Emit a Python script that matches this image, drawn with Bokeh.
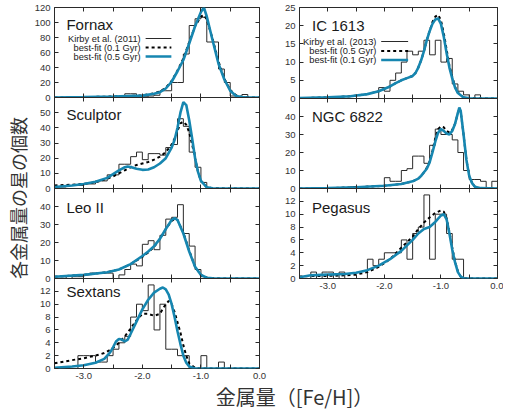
import math
from bokeh.plotting import figure
from bokeh.layouts import column, row
from bokeh.models import Range1d, LinearAxis, FixedTicker, PrintfTickFormatter, Label
from bokeh.embed import file_html
from bokeh.resources import INLINE

# ---------------- data ----------------
BIN_LEFT = [-3.5, -3.4, -3.3, -3.2, -3.1, -3.0, -2.9, -2.8, -2.7, -2.6, -2.5, -2.4,
            -2.3, -2.2, -2.1, -2.0, -1.9, -1.8, -1.7, -1.6, -1.5, -1.4, -1.3, -1.2,
            -1.1, -1.0, -0.9, -0.8, -0.7, -0.6, -0.5, -0.4, -0.3, -0.2, -0.1]
BIN_END = 0.0

X_MAJOR = [-3.0, -2.0, -1.0, 0.0]
X_MINOR = [-3.5, -2.5, -1.5, -0.5]

FORNAX_COUNTS = [0, 0, 0, 0, 0, 0, 0, 0, 0, 0, 0, 0, 5, 5, 1, 1, 2, 3, 9, 9, 20, 20, 58, 96,
                 105, 107, 74, 74, 38, 20, 2, 0, 4, 0, 0]
FORNAX_FIT_X = [-3.5, -3.0, -2.5, -2.0, -1.8, -1.7, -1.6, -1.5, -1.4, -1.3, -1.2, -1.1, -1.0,
                -0.95, -0.9, -0.8, -0.7, -0.6, -0.5, -0.4, -0.3, -0.2, 0.0]
FORNAX_FIT_01 = [0, 0.5, 1.3, 2.7, 5.5, 8, 13, 22, 36, 52, 74, 95, 108, 110, 104, 78, 48, 25, 10,
                 3, 0.8, 0.2, 0]
FORNAX_FIT_05 = [0, 0.5, 1.2, 2.5, 5, 7, 12, 21, 35, 50, 72, 95, 114, 120, 108, 76, 45, 24, 9,
                 2, 0.5, 0.1, 0]
FORNAX_YTICKS = [0, 20, 40, 60, 80, 100, 120]

SCULPTOR_COUNTS = [1, 1, 2, 2, 2, 3, 3, 5, 5, 9, 9, 16, 16, 21, 24, 19, 23, 23, 22, 27, 29, 46,
                   41, 24, 14, 4, 0, 0, 0, 0, 0, 0, 0, 0, 0]
SCULPTOR_FIT_X = [-3.5, -3.2, -3.0, -2.8, -2.6, -2.5, -2.4, -2.3, -2.25, -2.2, -2.1, -2.0, -1.9,
                  -1.8, -1.7, -1.6, -1.5, -1.45, -1.4, -1.35, -1.3, -1.25, -1.2, -1.15, -1.1,
                  -1.05, -1.0, -0.9, -0.8, -0.5, 0.0]
SCULPTOR_FIT_01 = [2, 2.5, 3, 4, 6.5, 8, 10, 12, 13, 14, 15.5, 16.5, 17.5, 19, 21, 24, 29, 33,
                   38, 43, 44, 42, 37, 29, 20, 11, 5, 1, 0.2, 0, 0]
SCULPTOR_FIT_05 = [1, 2, 3, 4.5, 7, 9.5, 12, 14, 14.5, 14.2, 13, 12.3, 12.5, 14, 16.5, 20, 27,
                   32, 40, 50, 57, 55, 45, 33, 20, 11, 5, 0.8, 0.1, 0, 0]
SCULPTOR_YTICKS = [0, 10, 20, 30, 40, 50]

LEO2_COUNTS = [1, 1, 0, 1, 1, 2, 3, 3, 3, 3, 0, 2, 5, 8, 7, 19, 21, 16, 24, 33, 34, 41, 25, 18,
               5, 1, 0, 0, 0, 0, 0, 0, 0, 0, 0]
LEO2_FIT_X = [-3.5, -3.0, -2.6, -2.4, -2.2, -2.0, -1.9, -1.8, -1.7, -1.6, -1.5, -1.45, -1.4,
              -1.3, -1.2, -1.1, -1.0, -0.9, -0.8, -0.5, 0.0]
LEO2_FIT_01 = [1, 2, 3.5, 5, 8, 12, 14.5, 17.5, 22, 27.5, 32, 33, 32.5, 25.5, 15.5, 6.5, 2, 0.4,
               0.1, 0, 0]
LEO2_FIT_05 = [1, 2, 3.5, 5, 8, 12.5, 15, 18, 22, 27.5, 32.5, 33.5, 32.5, 25, 15, 6.5, 2, 0.4,
               0.1, 0, 0]
LEO2_YTICKS = [0, 10, 20, 30, 40]

SEXTANS_COUNTS = [0, 0, 0, 0, 2, 2, 2, 1, 1, 2, 3, 4, 5, 8, 10, 9, 13, 6, 10, 3, 3, 2, 2, 0, 0,
                  2, 0, 0, 1, 0, 0, 0, 0, 0, 0]
SEXTANS_FIT_X = [-3.5, -3.2, -3.0, -2.8, -2.65, -2.55, -2.5, -2.45, -2.4, -2.35, -2.3, -2.25,
                 -2.2, -2.1, -2.0, -1.9, -1.8, -1.7, -1.65, -1.6, -1.55, -1.5, -1.45, -1.4,
                 -1.35, -1.3, -1.25, -1.2, -1.1, -1.0, 0.0]
SEXTANS_FIT_01 = [0.8, 1.3, 1.6, 2, 2.4, 2.9, 3.2, 3.6, 4, 4.5, 5, 5.6, 6.2, 7.5, 8.5, 8.5, 8.2,
                  8.5, 9.3, 10, 10.5, 10, 8.8, 7.2, 5.6, 3.6, 2, 0.8, 0.1, 0, 0]
SEXTANS_FIT_05 = [0.1, 0.3, 0.5, 0.9, 1.5, 2.5, 3.3, 4.2, 4.6, 4.5, 4.2, 4.5, 5.4, 7.3, 9.2,
                  10.7, 11.8, 12.4, 12.6, 12.3, 11.5, 10, 8, 5.8, 3.8, 2, 0.9, 0.3, 0, 0, 0]
SEXTANS_YTICKS = [0, 2, 4, 6, 8, 10, 12]

IC1613_COUNTS = [0, 0, 0, 0, 0, 0, 0, 0, 0, 0, 0, 0, 0, 0, 3, 2, 5, 7, 10, 13, 12, 13, 16, 12,
                 16, 10, 11, 4, 2, 1, 0, 1, 0, 0, 0]
IC1613_FIT_X = [-3.5, -3.0, -2.6, -2.3, -2.1, -1.9, -1.8, -1.7, -1.6, -1.5, -1.45, -1.4, -1.35,
                -1.3, -1.25, -1.2, -1.15, -1.1, -1.05, -1.0, -0.95, -0.9, -0.85, -0.8, -0.75,
                -0.7, -0.6, -0.5, 0.0]
IC1613_FIT_05 = [0.1, 0.3, 0.6, 1.2, 2, 3.3, 4.2, 5, 5.6, 6.2, 7, 8.5, 10.5, 13, 16, 18.5, 21,
                 22.5, 23, 21.5, 18, 13.5, 9, 6, 3.2, 1.6, 0.3, 0.05, 0]
IC1613_FIT_01 = [0.1, 0.3, 0.6, 1.2, 2, 3.3, 4.2, 5, 5.6, 6.2, 7, 8.5, 10.5, 13, 16, 18.5, 20.5,
                 21.7, 22, 20.5, 17, 12.5, 8.5, 5.5, 3, 1.5, 0.3, 0.05, 0]
IC1613_YTICKS = [0, 5, 10, 15, 20, 25]

NGC6822_COUNTS = [0, 0, 0, 0, 0, 0, 0, 0, 0, 1, 1, 0, 0, 0, 0, 6, 4, 4, 10, 11, 18, 18, 14, 24,
                  33, 30, 30, 27, 20, 10, 5, 5, 4, 0, 4]
NGC6822_FIT_X = [-3.5, -3.0, -2.5, -2.0, -1.7, -1.5, -1.4, -1.35, -1.3, -1.25, -1.2, -1.15, -1.1,
                 -1.05, -1.0, -0.95, -0.9, -0.85, -0.8, -0.75, -0.7, -0.675, -0.65, -0.6, -0.55,
                 -0.5, -0.45, -0.4, -0.3, 0.0]
NGC6822_FIT_05 = [0, 0.2, 0.7, 1.5, 2.5, 4, 5.5, 7, 9, 11.5, 15, 21, 28, 33, 34.5, 34, 32, 31,
                  32.5, 36, 42, 44.5, 42.5, 30, 16, 7, 3, 1, 0.2, 0]
NGC6822_FIT_01 = [0, 0.2, 0.7, 1.5, 2.5, 4, 5.5, 7, 9, 11, 14.5, 20, 26, 31, 33, 32, 30.5, 30,
                  32, 36, 42, 45, 43, 30, 16, 7, 3, 1, 0.2, 0]
NGC6822_YTICKS = [0, 10, 20, 30, 40]

PEGASUS_COUNTS = [0, 0, 1, 0, 1, 1, 0, 1, 0, 0, 0, 0, 3, 2, 3, 4, 4, 4, 6, 3, 7, 8, 13, 3, 10,
                  10, 7, 3, 3, 0, 0, 0, 0, 0, 0]
PEGASUS_FIT_X = [-3.5, -3.3, -3.0, -2.7, -2.5, -2.3, -2.1, -1.9, -1.7, -1.5, -1.4, -1.3, -1.2,
                 -1.1, -1.0, -0.95, -0.9, -0.85, -0.8, -0.75, -0.7, -0.65, -0.6, -0.5, 0.0]
PEGASUS_FIT_05 = [0.3, 0.4, 0.4, 0.5, 0.6, 1, 1.8, 3, 4.8, 6.5, 7.7, 8.7, 9.5, 10.2, 10.6, 10.4,
                  9.4, 7.2, 4.8, 2.6, 1.1, 0.3, 0.05, 0, 0]
PEGASUS_FIT_01 = [0.2, 0.5, 0.6, 0.7, 0.9, 1.3, 2, 3, 4.3, 6, 7, 7.7, 8, 8.8, 9.8, 10, 9.2, 7,
                  4.5, 2.5, 1, 0.3, 0.05, 0, 0]
PEGASUS_YTICKS = [0, 2, 4, 6, 8, 10, 12]

LEGEND_LEFT = ["Kirby et al. (2011)", "best-fit (0.1 Gyr)", "best-fit (0.5 Gyr)"]
LEGEND_RIGHT = ["Kirby et al. (2013)", "best-fit (0.5 Gyr)", "best-fit (0.1 Gyr)"]

Y_LABEL = "各金属量の星の個数"
X_LABEL = "金属量（[Fe/H]）"

# ---------------- style ----------------
BLUE = "#1686b0"
INK = "#2a2a2a"
FONT = "Liberation Sans"
CJK = "Noto Sans CJK JP"
XMIN, XMAX = -3.5, 0.0


def add_axes(p, yticks, show_x):
    common = dict(axis_line_color=None, major_tick_in=4, major_tick_out=0,
                  minor_tick_in=4, minor_tick_out=0,
                  major_tick_line_color=INK, minor_tick_line_color=INK,
                  major_label_text_font=FONT, major_label_text_color="#333333",
                  major_label_text_font_size="9.5px")
    # mirrored (unlabelled) ticks are drawn as minor ticks, so they carry no labels
    all_x = sorted(X_MAJOR + X_MINOR)
    if show_x:
        below = LinearAxis(ticker=FixedTicker(ticks=X_MAJOR, minor_ticks=X_MINOR),
                           formatter=PrintfTickFormatter(format="%.1f"),
                           major_label_standoff=4, **common)
    else:
        below = LinearAxis(ticker=FixedTicker(ticks=[], minor_ticks=all_x),
                           major_label_standoff=0, **common)
    above = LinearAxis(ticker=FixedTicker(ticks=[], minor_ticks=all_x),
                       major_label_standoff=0, **common)
    left = LinearAxis(ticker=FixedTicker(ticks=yticks, minor_ticks=[]),
                      major_label_standoff=4, **common)
    right = LinearAxis(ticker=FixedTicker(ticks=[], minor_ticks=yticks),
                       major_label_standoff=0, **common)
    p.add_layout(below, "below")
    p.add_layout(above, "above")
    p.add_layout(left, "left")
    p.add_layout(right, "right")


def panel(name, counts, fit_x, fit_dash, fit_blue, ymax, yticks, width, lb, rb, tb, bb,
          frame_h, show_x, margin, title_off, legend=None):
    fw = width - lb - rb
    p = figure(width=width, height=tb + frame_h + bb,
               x_range=Range1d(XMIN, XMAX), y_range=Range1d(0, ymax),
               x_axis_type=None, y_axis_type=None,
               output_backend="svg", toolbar_location=None,
               min_border_left=lb, min_border_right=rb, min_border_top=tb, min_border_bottom=bb,
               background_fill_alpha=0, border_fill_alpha=0,
               outline_line_color=INK, outline_line_width=1,
               margin=margin)
    add_axes(p, yticks, show_x)

    def xd(px):
        return XMIN + px / fw * (XMAX - XMIN)

    def yd(py):
        return ymax - py / frame_h * ymax

    p.step(x=BIN_LEFT + [BIN_END], y=counts + [0], mode="after", line_color=INK, line_width=1)
    p.line(fit_x, fit_dash, line_color="black", line_width=2, line_dash="3 3")
    p.line(fit_x, fit_blue, line_color=BLUE, line_width=2.6)

    p.add_layout(Label(x=xd(title_off[0]), y=yd(title_off[1]), text=name,
                       text_baseline="middle", text_font=FONT, text_font_size="15px",
                       text_color="#1a1a1a"))
    if legend is not None:
        texts, tx, sx0, sx1, rows = legend
        styles = [dict(line_color=INK, line_width=1.2),
                  dict(line_color="black", line_width=2, line_dash="3 3"),
                  dict(line_color=BLUE, line_width=2.6)]
        for t, ry, st in zip(texts, rows, styles):
            p.add_layout(Label(x=xd(tx), y=yd(ry), text=t, text_align="right",
                               text_baseline="middle", text_font=FONT,
                               text_font_size="9.3px", text_color="#1a1a1a"))
            p.line([xd(sx0), xd(sx1)], [yd(ry), yd(ry)], **st)
    return p


LW, LLB, LRB = 244, 21, 16
# right column runs into the page's right margin (negative right margin keeps the page width)
RW, RLB, RRB, RM = 236, 24, 6, -8

f1 = panel("Fornax", FORNAX_COUNTS, FORNAX_FIT_X, FORNAX_FIT_01, FORNAX_FIT_05, 120,
           FORNAX_YTICKS, LW, LLB, LRB, 7, 6, 90, False, (0, 0, 0, 0), (12, 17),
           legend=(LEGEND_LEFT, 87, 92, 118, (31, 40, 49)))
f2 = panel("Sculptor", SCULPTOR_COUNTS, SCULPTOR_FIT_X, SCULPTOR_FIT_01, SCULPTOR_FIT_05, 60,
           SCULPTOR_YTICKS, LW, LLB, LRB, 6, 6, 91, False, (-12, 0, 0, 0), (12, 17))
f3 = panel("Leo II", LEO2_COUNTS, LEO2_FIT_X, LEO2_FIT_01, LEO2_FIT_05, 50,
           LEO2_YTICKS, LW, LLB, LRB, 6, 6, 90, False, (-12, 0, 0, 0), (12, 19))
f4 = panel("Sextans", SEXTANS_COUNTS, SEXTANS_FIT_X, SEXTANS_FIT_01, SEXTANS_FIT_05, 14,
           SEXTANS_YTICKS, LW, LLB, LRB, 6, 16, 90, True, (-12, 0, 0, 0), (12, 13))

g1 = panel("IC 1613", IC1613_COUNTS, IC1613_FIT_X, IC1613_FIT_05, IC1613_FIT_01, 25,
           IC1613_YTICKS, RW, RLB, RRB, 7, 6, 91, False, (0, RM, 0, 0), (13, 18),
           legend=(LEGEND_RIGHT, 80, 85, 113, (34, 43.5, 52.5)))
g2 = panel("NGC 6822", NGC6822_COUNTS, NGC6822_FIT_X, NGC6822_FIT_05, NGC6822_FIT_01, 50,
           NGC6822_YTICKS, RW, RLB, RRB, 6, 6, 90, False, (-12, RM, 0, 0), (13, 18))
g3 = panel("Pegasus", PEGASUS_COUNTS, PEGASUS_FIT_X, PEGASUS_FIT_05, PEGASUS_FIT_01, 14,
           PEGASUS_YTICKS, RW, RLB, RRB, 6, 16, 90, True, (-12, RM, 0, 0), (13, 19))

TOP_H = 384
YL_W = 31
ylab = figure(width=YL_W, height=TOP_H, x_range=Range1d(0, YL_W), y_range=Range1d(0, TOP_H),
              x_axis_type=None, y_axis_type=None, output_backend="svg", toolbar_location=None,
              min_border=0, outline_line_color=None, background_fill_alpha=0,
              border_fill_alpha=0)
ylab.add_layout(Label(x=17.5, y=TOP_H - 197.5, text=Y_LABEL, angle=math.pi / 2,
                      text_align="center", text_baseline="middle", text_font=CJK,
                      text_font_size="18px", text_color="#333333"))

# x-axis title strip: overlaps the tick-label strip above and the page's bottom margin
XL_H = 36
xlab = figure(width=503, height=XL_H, x_range=Range1d(0, 503), y_range=Range1d(0, XL_H),
              x_axis_type=None, y_axis_type=None, output_backend="svg", toolbar_location=None,
              min_border=0, outline_line_color=None, background_fill_alpha=0,
              border_fill_alpha=0, margin=(-9, 0, -10, 0))
xlab.add_layout(Label(x=294, y=14.8, text=X_LABEL, text_align="center", text_baseline="middle",
                      text_font=CJK, text_font_size="20px", text_color="#333333"))

layout = column(row(ylab, column(f1, f2, f3, f4), column(g1, g2, g3)), xlab)

open("out.html", "w").write(file_html(layout, INLINE))
